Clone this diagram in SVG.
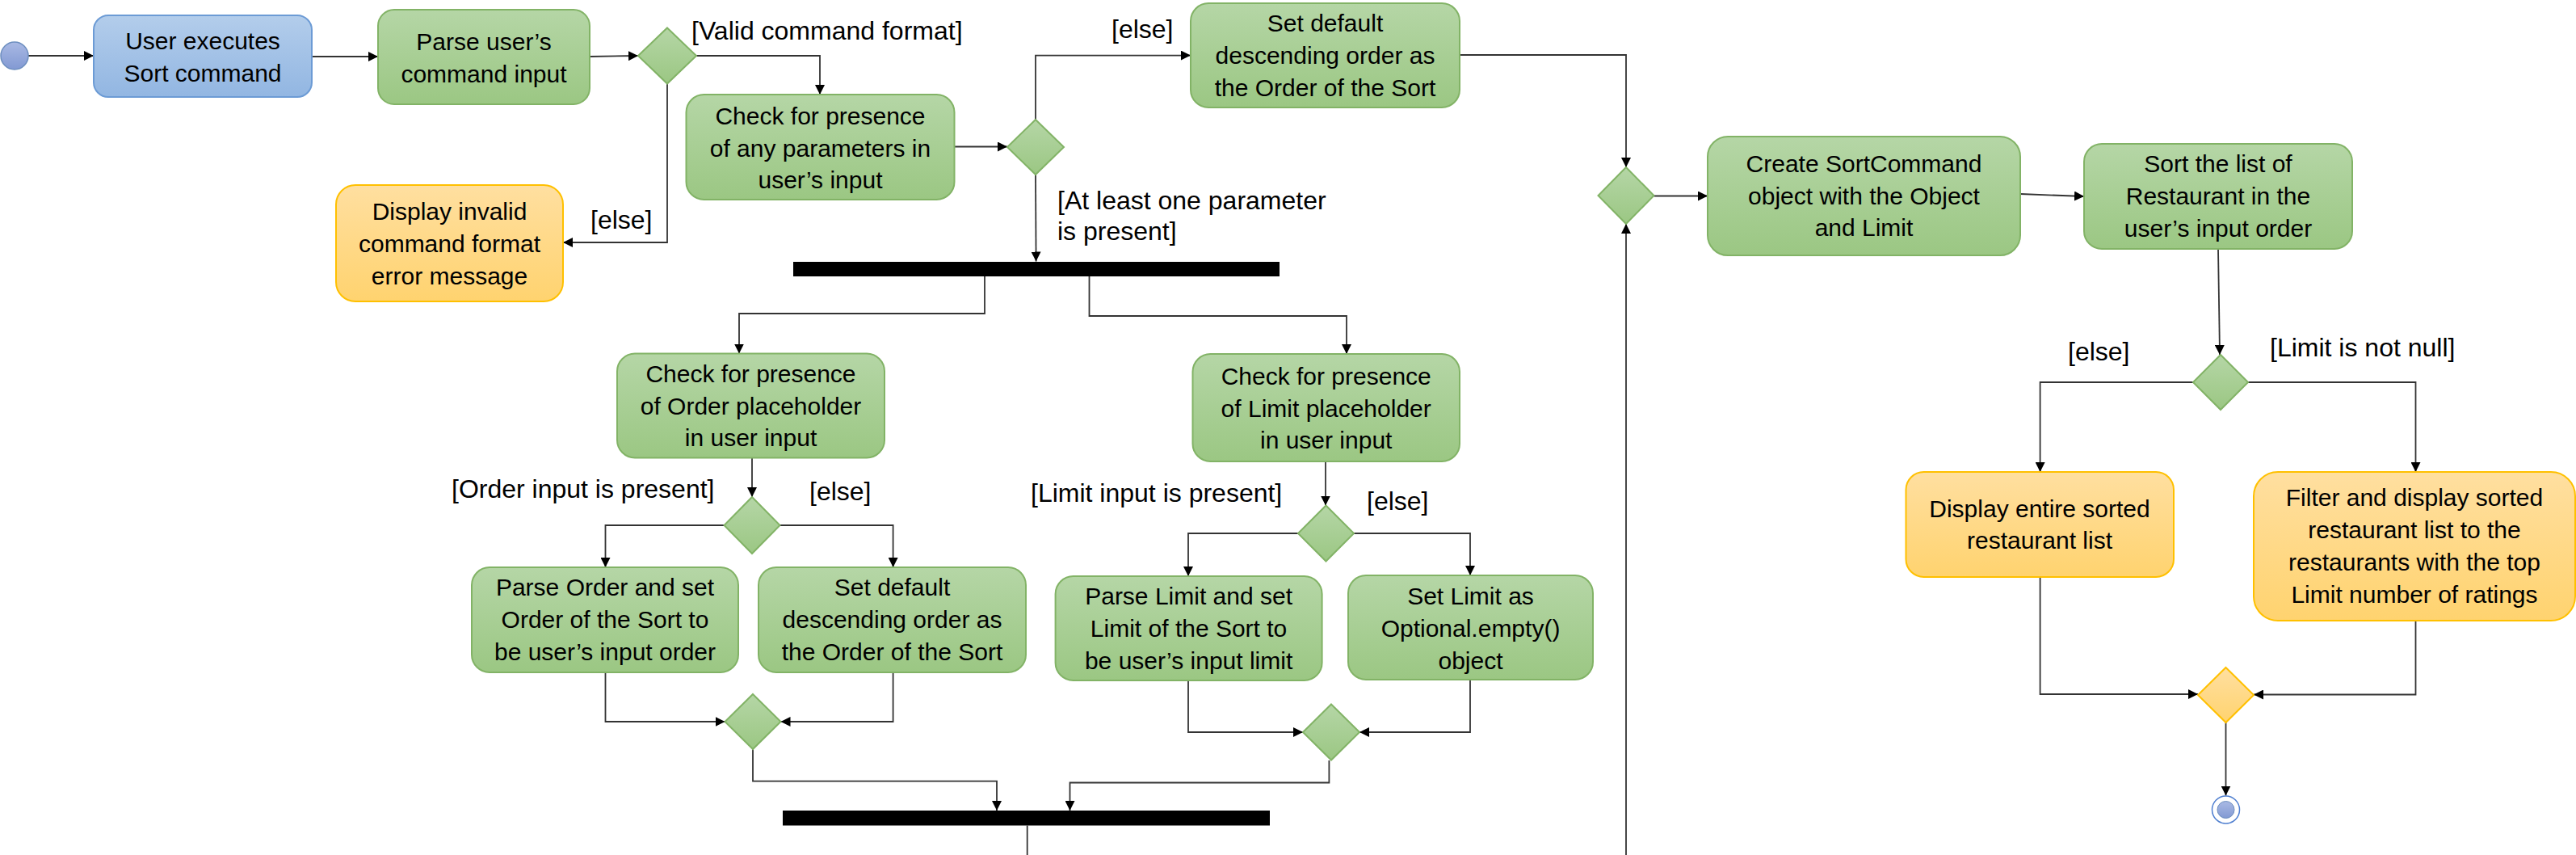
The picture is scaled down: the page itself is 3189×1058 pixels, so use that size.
<svg xmlns="http://www.w3.org/2000/svg" width="3189" height="1058" viewBox="0 0 3189 1058">
<defs>
<linearGradient id="gG" x1="0" y1="0" x2="0" y2="1"><stop offset="0" stop-color="#B5D6A6"/><stop offset="1" stop-color="#9BC783"/></linearGradient>
<linearGradient id="gB" x1="0" y1="0" x2="0" y2="1"><stop offset="0" stop-color="#B3CDEB"/><stop offset="1" stop-color="#92B6E2"/></linearGradient>
<linearGradient id="gO" x1="0" y1="0" x2="0" y2="1"><stop offset="0" stop-color="#FFDFA0"/><stop offset="1" stop-color="#FFD36F"/></linearGradient>
<linearGradient id="gS" x1="0" y1="0" x2="0" y2="1"><stop offset="0" stop-color="#A9B9E4"/><stop offset="1" stop-color="#8299D3"/></linearGradient>
<marker id="ar" markerUnits="userSpaceOnUse" markerWidth="13" markerHeight="12" refX="12" refY="6" orient="auto" viewBox="0 0 13 12"><path d="M0,0 L12,6 L0,12 z" fill="#000"/></marker>
</defs>
<style>
.g{fill:url(#gG);stroke:#82B366;stroke-width:2}
.b{fill:url(#gB);stroke:#6C9BD5;stroke-width:2}
.o{fill:url(#gO);stroke:#FFC000;stroke-width:2}
.t{font-family:"Liberation Sans",Arial,sans-serif;font-size:30px;fill:#000;text-anchor:middle}
.l{font-family:"Liberation Sans",Arial,sans-serif;font-size:32px;fill:#000}
.c{fill:none;stroke:#333;stroke-width:1.8;marker-end:url(#ar)}
.n{fill:none;stroke:#333;stroke-width:1.8}
.bar{fill:#000}
</style>
<g id="connectors">
<path class="c" d="M35,69 L116,69"/>
<path class="c" d="M386,70 L468,70"/>
<path class="c" d="M730,70 L790,69"/>
<path class="c" d="M862,69 L1015,69 L1015,117"/>
<path class="c" d="M826,103.5 L826,300 L697,300"/>
<path class="c" d="M1181.5,181.5 L1247,181.5"/>
<path class="c" d="M1282,148 L1282,68.6 L1474,68.6"/>
<path class="c" d="M1282,216 L1282.6,323.5"/>
<path class="c" d="M1807,68 L2013,68 L2013,207"/>
<path class="c" d="M2013,1058 L2013,277"/>
<path class="c" d="M2047.5,242.5 L2114,242.5"/>
<path class="c" d="M2501,240 L2580,243"/>
<path class="c" d="M2746,307.5 L2748,439"/>
<path class="c" d="M2715,473 L2525.6,473 L2525.6,584"/>
<path class="c" d="M2783,473 L2990.5,473 L2990.5,584"/>
<path class="c" d="M2525.6,713.5 L2525.6,859 L2721,859"/>
<path class="c" d="M2990.5,767.6 L2990.5,859.5 L2790,859.5"/>
<path class="c" d="M2755.5,894 L2755.5,984.5"/>
<path class="c" d="M1219,342 L1219,388 L915,388 L915,437.5"/>
<path class="c" d="M1348.5,342 L1348.5,391 L1667,391 L1667,438"/>
<path class="c" d="M931,566.5 L931,615"/>
<path class="c" d="M1641,571 L1641,625.5"/>
<path class="c" d="M896.5,650 L749.5,650 L749.5,702"/>
<path class="c" d="M965.5,650 L1105.6,650 L1105.6,702"/>
<path class="c" d="M749.5,832 L749.5,893 L897.5,893"/>
<path class="c" d="M1105.6,832 L1105.6,893 L966.5,893"/>
<path class="c" d="M932,927 L932,966.7 L1234,966.7 L1234,1003"/>
<path class="c" d="M1607,660 L1471,660 L1471,713"/>
<path class="c" d="M1676,660 L1820,660 L1820,712"/>
<path class="c" d="M1471,842 L1471,906 L1613,906"/>
<path class="c" d="M1820,841 L1820,906 L1683,906"/>
<path class="c" d="M1645.4,941 L1645.4,968.5 L1324.5,968.5 L1324.5,1003"/>
<path class="n" d="M1271.7,1021.5 L1271.7,1058"/>
</g>
<g id="labels">
<text class="l" x="856" y="49">[Valid command  format]</text>
<text class="l" x="1376" y="47">[else]</text>
<text class="l" x="1309" y="259">[At least one parameter</text>
<text class="l" x="1309" y="297">is present]</text>
<text class="l" x="731" y="283">[else]</text>
<text class="l" x="559" y="616">[Order input is present]</text>
<text class="l" x="1002" y="619">[else]</text>
<text class="l" x="1276" y="621">[Limit input is present]</text>
<text class="l" x="1692" y="631">[else]</text>
<text class="l" x="2560" y="446">[else]</text>
<text class="l" x="2810" y="441">[Limit is not null]</text>
</g>
<g id="start"><circle cx="18" cy="69" r="17" fill="url(#gS)" stroke="#6C8EBF" stroke-width="1.5"/></g>
<g id="end"><circle cx="2755.5" cy="1002" r="17" fill="#fff" stroke="#4F7FD0" stroke-width="1.5"/><circle cx="2755.5" cy="1002" r="10.5" fill="url(#gS)" stroke="#6C8EBF" stroke-width="1"/></g>
<g id="userExecutes"><rect class="b" x="116" y="19" width="270" height="101" rx="18"/><text class="t" x="251" y="61">User executes</text><text class="t" x="251" y="101">Sort command</text></g>
<g id="parseInput"><rect class="g" x="468" y="12" width="262" height="117" rx="20"/><text class="t" x="599" y="62">Parse user’s</text><text class="t" x="599" y="102">command input</text></g>
<g id="d1"><polygon class="g" points="826,34.5 862,69 826,103.5 790,69"/></g>
<g id="invalid"><rect class="o" x="416" y="229" width="281" height="144" rx="24"/><text class="t" x="556.5" y="272">Display invalid</text><text class="t" x="556.5" y="312">command format</text><text class="t" x="556.5" y="352">error message</text></g>
<g id="checkParams"><rect class="g" x="849.5" y="117" width="332" height="130" rx="22"/><text class="t" x="1015.5" y="154">Check for presence</text><text class="t" x="1015.5" y="194">of any parameters in</text><text class="t" x="1015.5" y="233">user’s input</text></g>
<g id="d2"><polygon class="g" points="1282,148 1317,182 1282,216 1247,182"/></g>
<g id="setDefault1"><rect class="g" x="1474" y="4" width="333" height="129" rx="22"/><text class="t" x="1640.5" y="39">Set default</text><text class="t" x="1640.5" y="79">descending order as</text><text class="t" x="1640.5" y="119">the Order of the Sort</text></g>
<g id="fork1"><rect class="bar" x="982" y="324" width="602" height="18"/></g>
<g id="d3"><polygon class="g" points="2013,207 2047.5,242 2013,277 1978.5,242"/></g>
<g id="createCmd"><rect class="g" x="2114" y="169" width="387" height="147" rx="25"/><text class="t" x="2307.5" y="213">Create SortCommand</text><text class="t" x="2307.5" y="253">object with the Object</text><text class="t" x="2307.5" y="292">and Limit</text></g>
<g id="sortList"><rect class="g" x="2580" y="178" width="332" height="130" rx="22"/><text class="t" x="2746" y="213">Sort the list of</text><text class="t" x="2746" y="253">Restaurant in the</text><text class="t" x="2746" y="293">user’s input order</text></g>
<g id="d4"><polygon class="g" points="2749,439 2783,473 2749,507 2715,473"/></g>
<g id="displayEntire"><rect class="o" x="2359.5" y="584" width="331.5" height="130" rx="22"/><text class="t" x="2525" y="640">Display entire sorted</text><text class="t" x="2525" y="679">restaurant list</text></g>
<g id="filter"><rect class="o" x="2790" y="584" width="398" height="184" rx="30"/><text class="t" x="2989" y="626">Filter and display sorted</text><text class="t" x="2989" y="666">restaurant list to the</text><text class="t" x="2989" y="706">restaurants with the top</text><text class="t" x="2989" y="746">Limit number of ratings</text></g>
<g id="d9"><polygon class="o" points="2755.5,826 2790,860 2755.5,894 2721,860"/></g>
<g id="checkOrder"><rect class="g" x="764" y="437.5" width="331" height="129" rx="22"/><text class="t" x="929.5" y="473">Check for presence</text><text class="t" x="929.5" y="512.5">of Order placeholder</text><text class="t" x="929.5" y="552">in user input</text></g>
<g id="checkLimit"><rect class="g" x="1476.5" y="438" width="330.5" height="133" rx="22"/><text class="t" x="1641.7" y="475.5">Check for presence</text><text class="t" x="1641.7" y="515.5">of Limit placeholder</text><text class="t" x="1641.7" y="555">in user input</text></g>
<g id="d5"><polygon class="g" points="931,615 965.5,650 931,685 896.5,650"/></g>
<g id="d7"><polygon class="g" points="1641.5,625.5 1676,660 1641.5,694.5 1607,660"/></g>
<g id="parseOrder"><rect class="g" x="584" y="702" width="330" height="130" rx="22"/><text class="t" x="749" y="737">Parse Order and set</text><text class="t" x="749" y="777">Order of the Sort to</text><text class="t" x="749" y="816.5">be user’s input order</text></g>
<g id="setDefault2"><rect class="g" x="939" y="702" width="331" height="130" rx="22"/><text class="t" x="1104.5" y="737">Set default</text><text class="t" x="1104.5" y="777">descending order as</text><text class="t" x="1104.5" y="816.5">the Order of the Sort</text></g>
<g id="parseLimit"><rect class="g" x="1306.6" y="713" width="330" height="129" rx="22"/><text class="t" x="1471.6" y="748">Parse Limit and set</text><text class="t" x="1471.6" y="788">Limit of the Sort to</text><text class="t" x="1471.6" y="827.5">be user’s input limit</text></g>
<g id="setLimit"><rect class="g" x="1669" y="712" width="303" height="129" rx="22"/><text class="t" x="1820.5" y="748">Set Limit as</text><text class="t" x="1820.5" y="788">Optional.empty()</text><text class="t" x="1820.5" y="827.5">object</text></g>
<g id="d6"><polygon class="g" points="932,859 966.5,893 932,927 897.5,893"/></g>
<g id="d8"><polygon class="g" points="1648,871.5 1683,906 1648,940.5 1613,906"/></g>
<g id="join2"><rect class="bar" x="969" y="1003" width="603" height="18.5"/></g>
</svg>
